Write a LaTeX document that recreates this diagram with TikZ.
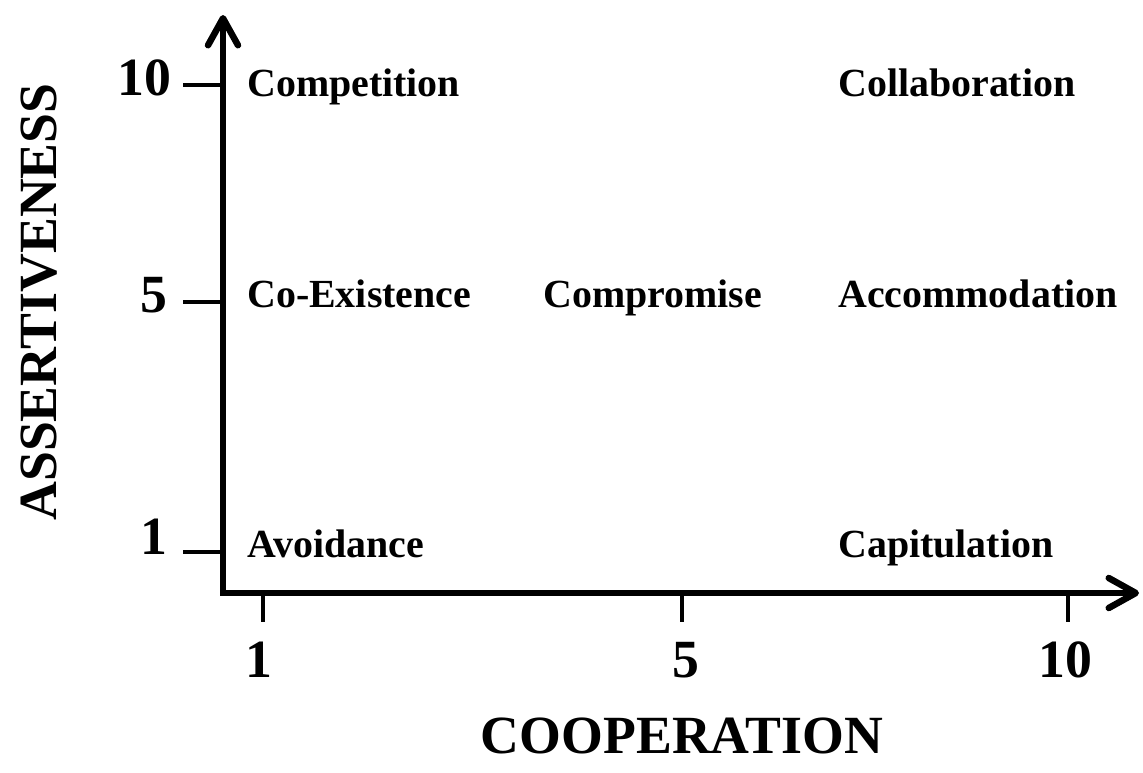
\documentclass[tikz,border=0pt]{standalone}
\usepackage{fontspec}
\usepackage{tikz}
\usetikzlibrary{arrows.meta}
\setmainfont{Liberation Serif}
\tikzset{
  tkaxis/.style={line width=3.7pt, line join=miter, {Straight Barb[length=5.4mm, width=6mm, round]}-{Straight Barb[length=5.4mm, width=6mm, round]}},
  tktick/.style={line width=2.5pt},
  tkquad/.style={anchor=base west, inner sep=0pt, font=\bfseries\fontsize{22.7}{26}\selectfont},
  tknum/.style={inner sep=0pt, font=\bfseries\fontsize{30.6}{34}\selectfont},
  tktitle/.style={anchor=base, inner sep=0pt, font=\bfseries\fontsize{30.6}{34}\selectfont}
}

\begin{document}
\begin{tikzpicture}[x=.02cm, y=-.02cm]
  \useasboundingbox[fill=white] (0,0) rectangle (1143,772);
  \coordinate (orig) at (223,593);
  \coordinate (ytop) at (223,15);
  \coordinate (xend) at (1139,593);
  \draw[tkaxis] (ytop) -- (orig) -- (xend);
  % ticks on the assertiveness axis
  \foreach \v/\py/\ly/\lx in {10/85/95/172,5/302/312/168,1/552/554/168} {
    \coordinate (yt\v) at (223,\py);
    \node[tknum, anchor=base east] (ylab\v) at (\lx,\ly) {\v};
    \draw[tktick] (yt\v) -- ++(-40,0);
  }
  % ticks on the cooperation axis
  \foreach \v/\px/\lx in {1/263/259,5/682/686,10/1068/1065} {
    \coordinate (xt\v) at (\px,593);
    \node[tknum, anchor=base] (xlab\v) at (\lx,677) {\v};
    \draw[tktick] (xt\v) -- ++(0,29);
  }
  \node[tktitle, rotate=90] (assert) at (56,302) {ASSERTIVENESS};
  \node[tktitle] (coop) at (682,753) {COOPERATION};
  \node[tkquad] (competition) at (247,96) {Competition};
  \node[tkquad] (collab) at (838,96) {Collaboration};
  \node[tkquad] (coexist) at (247,307) {Co-Existence};
  \node[tkquad] (compromise) at (543,307) {Compromise};
  \node[tkquad] (accommod) at (838,307) {Accommodation};
  \node[tkquad] (avoid) at (247,557) {Avoidance};
  \node[tkquad] (capit) at (838,557) {Capitulation};
\end{tikzpicture}
\end{document}
